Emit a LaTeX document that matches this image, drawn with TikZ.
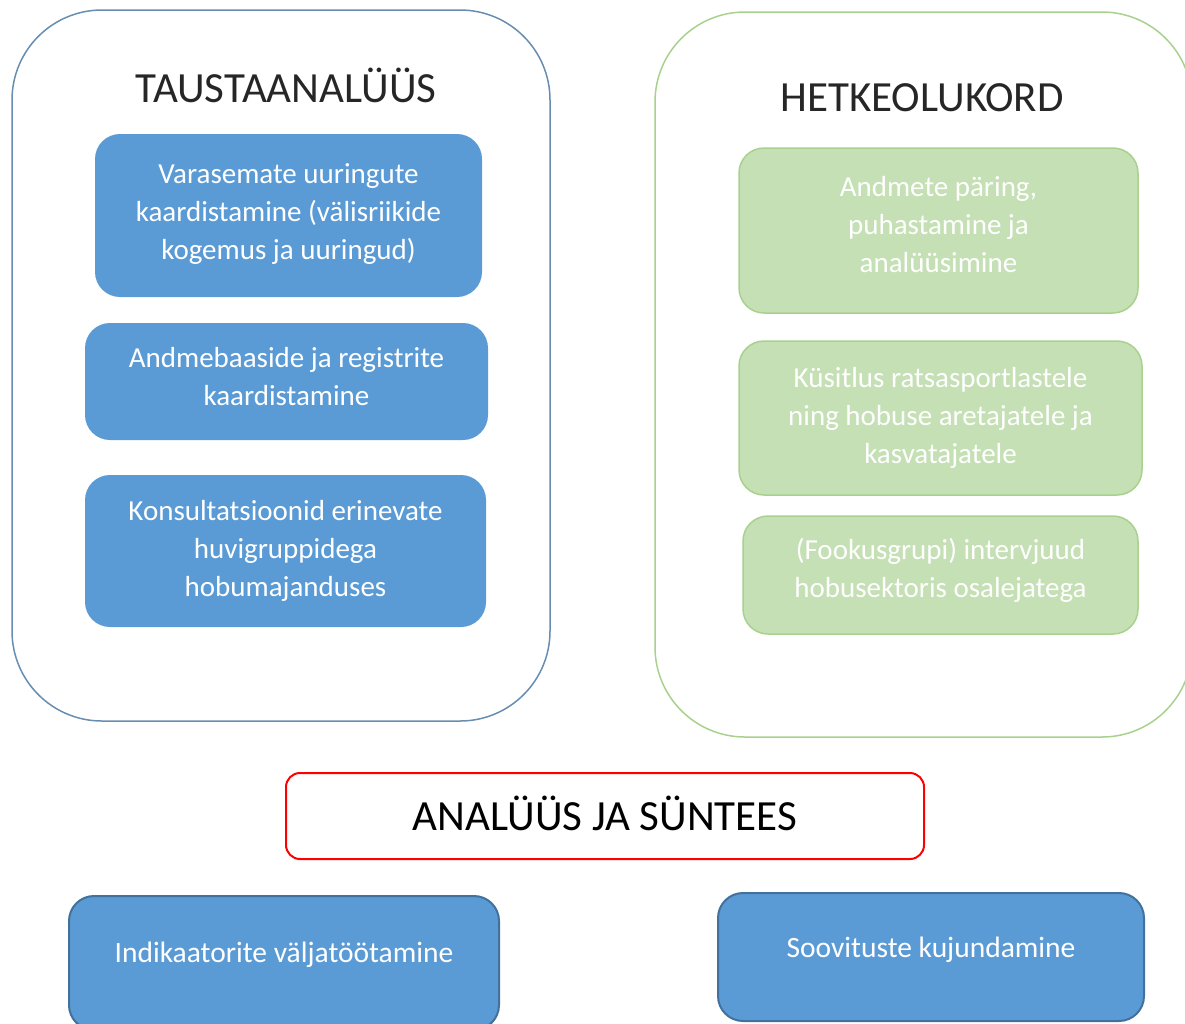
\documentclass[tikz,border=0pt]{standalone}
\usepackage{fontspec}
\setmainfont{Carlito}
\definecolor{boxblue}{HTML}{5B9BD5}
\definecolor{edgeblue}{HTML}{41719C}
\definecolor{framegreen}{HTML}{A9D18E}
\definecolor{boxgreen}{HTML}{C5E0B4}
% centred lines, lifted without changing the box size
\newcommand{\lifted}[2]{\raisebox{#1}[\height][\depth]{\begin{tabular}{@{}c@{}}#2\end{tabular}}}
\tikzset{
  phaseframe/.style={draw,line width=1.5pt,rounded corners=90pt,inner sep=0pt},
  phasetitle/.style={font=\fontsize{43}{50}\selectfont,text=black!85},
  taskbox/.style={rounded corners=25pt,inner sep=0pt,align=center,text=white,
    font=\fontsize{29}{38}\selectfont},
  bluetask/.style={taskbox,fill=boxblue},
  greentask/.style={taskbox,fill=boxgreen,draw=framegreen,line width=1.5pt},
  resultbox/.style={taskbox,fill=boxblue,draw=edgeblue,line width=2pt,
    font=\fontsize{29.5}{38}\selectfont}
}

\begin{document}
\begin{tikzpicture}[x=1pt,y=-1pt]
    \useasboundingbox (0,0) rectangle (1185,1023);
    \clip (0,0) rectangle (1185,1023);
    % two phase frames
    \node[phaseframe,draw=edgeblue!80,minimum width=538pt,minimum height=711pt] (background) at (281,365.5) {};
    \node[phaseframe,draw=framegreen,minimum width=537pt,minimum height=725pt] (current) at (923.5,374.5) {};
    \node[phasetitle] (backgroundtitle) at (286,85) {TAUSTAANALÜÜS};
    \node[phasetitle] (currenttitle) at (922,98) {HETKEOLUKORD};
    % background analysis tasks
    \node[bluetask,minimum width=387pt,minimum height=163pt] (studies) at (288.5,215.5)
      {\lifted{2pt}{Varasemate uuringute\\kaardistamine (välisriikide\\kogemus ja uuringud)}};
    \node[bluetask,minimum width=403pt,minimum height=117pt] (registers) at (286.5,381.5)
      {\lifted{3pt}{Andmebaaside ja registrite\\kaardistamine}};
    \node[bluetask,minimum width=401pt,minimum height=152pt] (consult) at (285.5,551)
      {\lifted{0pt}{Konsultatsioonid erinevate\\huvigruppidega\\hobumajanduses}};
    % current state tasks
    \node[greentask,minimum width=399pt,minimum height=165pt] (query) at (938.5,230.5)
      {\lifted{4pt}{Andmete päring,\\puhastamine ja\\analüüsimine}};
    \node[greentask,minimum width=403pt,minimum height=154pt] (survey) at (940.5,418)
      {\lifted{0pt}{Küsitlus ratsasportlastele\\ning hobuse aretajatele ja\\kasvatajatele}};
    \node[greentask,minimum width=395pt,minimum height=118pt] (interviews) at (940.5,575)
      {\lifted{4pt}{(Fookusgrupi) intervjuud\\hobusektoris osalejatega}};
    % synthesis and results
    \node[draw=red,line width=2pt,rounded corners=14pt,minimum width=638pt,minimum height=86pt,
      font=\fontsize{43}{50}\selectfont] (synthesis) at (605,816) {\lifted{-4pt}{ANALÜÜS JA SÜNTEES}};
    \node[resultbox,minimum width=430pt,minimum height=134pt] (indicators) at (284,963)
      {\lifted{8pt}{Indikaatorite väljatöötamine}};
    \node[resultbox,minimum width=426pt,minimum height=128pt] (advice) at (931,957)
      {\lifted{7pt}{Soovituste kujundamine}};
\end{tikzpicture}
\end{document}
